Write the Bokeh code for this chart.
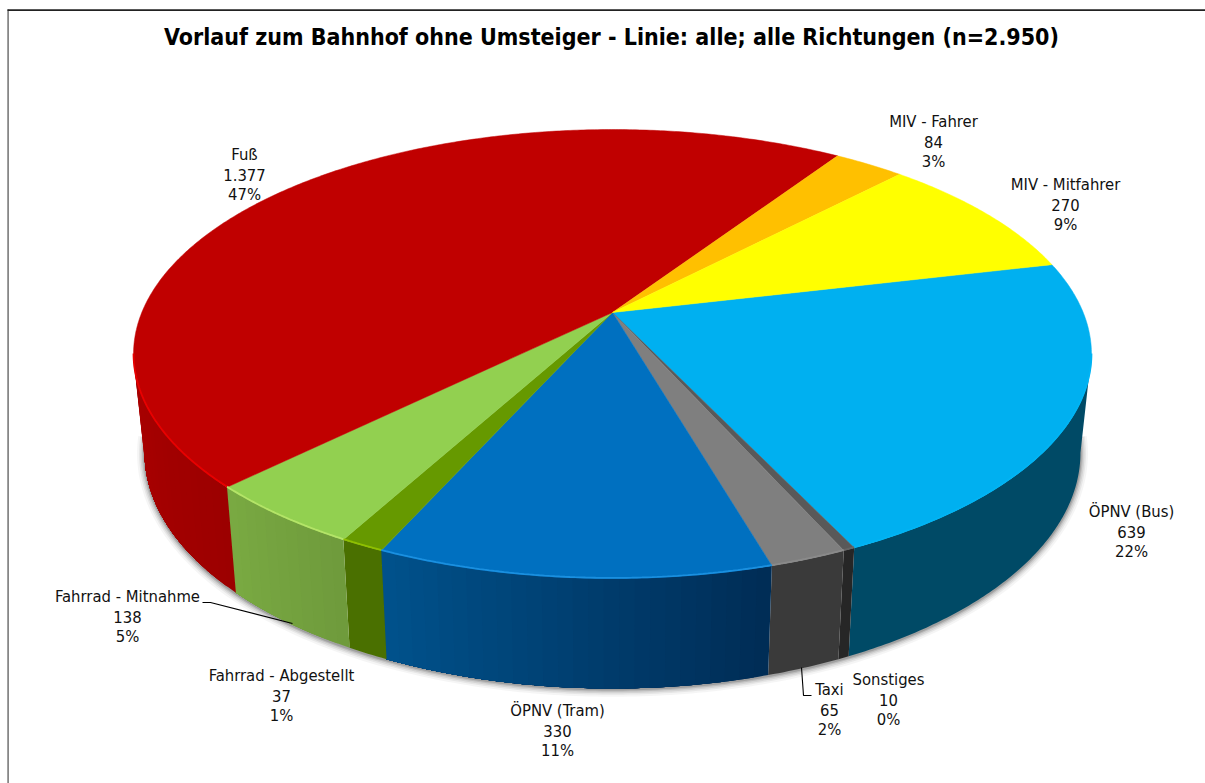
import numpy as np
from bokeh.plotting import figure
from bokeh.models import Range1d
from bokeh.core.properties import value
from bokeh.embed import file_html
from bokeh.resources import INLINE

# --- data (clockwise from the first slice) ---
categories = ["ÖPNV (Bus)", "Sonstiges", "Taxi", "ÖPNV (Tram)", "Fahrrad - Abgestellt",
              "Fahrrad - Mitnahme", "Fuß", "MIV - Fahrer", "MIV - Mitfahrer"]
values = [639, 10, 65, 330, 37, 138, 1377, 84, 270]
value_labels = ["639", "10", "65", "330", "37", "138", "1.377", "84", "270"]
percent_labels = ["22%", "0%", "2%", "11%", "1%", "5%", "47%", "3%", "9%"]
title_text = "Vorlauf zum Bahnhof ohne Umsteiger - Linie: alle; alle Richtungen (n=2.950)"

# --- styles ---
top_colors = ["#00B0F0", "#595959", "#7F7F7F", "#0070C0", "#669900", "#92D050", "#C00000", "#FFC000", "#FFFF00"]
wall_left = ["#004A66", "#262626", "#3A3A3A", "#002C55", "#4A7000", "#6F9A3C", "#9C0000", "#000000", "#000000"]
wall_right = ["#004A66", "#262626", "#3A3A3A", "#00528C", "#4A7000", "#79AA42", "#AA0000", "#000000", "#000000"]
rim_colors = ["#00B4F4", "#666666", "#8A8A8A", "#1A90E0", "#8FC000", "#B4E468", "#E80000", None, None]

# label anchor: centre x and y of the first line
label_pos = [(1131, 511), (888, 679), (829, 689), (557, 710), (281, 675), (127, 596), (244, 154), (933, 121), (1065, 184)]
LINE = 20.0
FONT = "DejaVu Sans Condensed"

# --- projection of the tilted disc ---
CX, CY = 612.0, 312.0
R, S, K = 470.7, 216.8, 0.1849
START = 13.3
X_SHRINK, Y_STRETCH, BOTTOM_Y, FRONT_Y = 0.977, 1.05, 688.0, 578.0
SILH = np.degrees(np.arcsin(K))


def top_pt(deg):
    t = np.radians(np.asarray(deg, dtype=float))
    X, Y = np.cos(t), np.sin(t)
    d = 1 + K * Y
    return CX + R * X / d, CY - S * Y / d


def bottom_pt(deg):
    x, y = top_pt(deg)
    return CX + X_SHRINK * (x - CX), BOTTOM_Y + Y_STRETCH * (y - FRONT_Y)


def lerp_hex(a, b, f):
    ca = [int(a[i:i + 2], 16) for i in (1, 3, 5)]
    cb = [int(b[i:i + 2], 16) for i in (1, 3, 5)]
    return "#%02x%02x%02x" % tuple(int(round(u + (v - u) * f)) for u, v in zip(ca, cb))


total = sum(values)
edges = [START]
for v in values:
    edges.append(edges[-1] - 360.0 * v / total)

p = figure(width=1205, height=783, x_range=Range1d(0, 1205), y_range=Range1d(783, 0),
           output_backend="svg", toolbar_location=None, min_border=0)
p.axis.visible = False
p.grid.visible = False
p.outline_line_color = None
p.background_fill_color = "white"
p.border_fill_color = "white"

# frame
p.line([7.6, 7.6], [9, 783], line_color="#7a7a7a", line_width=1.6)
p.line([7, 1205], [9.6, 9.6], line_color="#222222", line_width=1.6)

# soft shadow under the lower rim
ts = np.linspace(-SILH + 4, -180 + SILH - 4, 240)
sx, sy = bottom_pt(ts)
for w, a in [(15, 0.04), (11, 0.06), (8, 0.08), (5, 0.11), (2.5, 0.15)]:
    p.line(sx, sy + 0.8, line_color="black", line_width=w, line_alpha=a, line_join="round")

# walls: each slice is painted as successively narrower pieces for the shading
wx, wy, wc = [], [], []
for i in range(len(values)):
    hi, lo = edges[i], edges[i + 1]
    for shift in (0, 360):
        a = min(hi + shift, -SILH)
        b = max(lo + shift, -180 + SILH)
        if a <= b:
            continue
        same = wall_left[i] == wall_right[i]
        n = 1 if same else max(2, int((a - b) / 1.5))
        grid = np.linspace(a, b, n + 1)
        for j in range(n):
            g = np.linspace(grid[j], b, max(3, int((grid[j] - b) * 2)))
            tx, ty = top_pt(g)
            bx, by = bottom_pt(g)
            wx.append(list(tx) + list(bx[::-1]))
            wy.append(list(ty) + list(by[::-1]))
            wc.append(lerp_hex(wall_left[i], wall_right[i], (j + 0.5) / n))
p.patches(wx, wy, fill_color=wc, line_color=None)

# top surface
xs, ys, cols = [], [], []
for i in range(len(values)):
    g = np.linspace(edges[i], edges[i + 1], max(4, int(abs(edges[i] - edges[i + 1]) * 2)))
    x, y = top_pt(g)
    xs.append([CX] + list(x))
    ys.append([CY] + list(y))
    cols.append(top_colors[i])
p.patches(xs, ys, fill_color=cols, line_color=cols, line_width=0.5)

# light bevel on the front rim
for i in range(len(values)):
    if rim_colors[i] is None:
        continue
    for shift in (0, 360):
        a = min(edges[i] + shift, -SILH)
        b = max(edges[i + 1] + shift, -180 + SILH)
        if a <= b:
            continue
        x, y = top_pt(np.linspace(a, b, 80))
        p.line(x, y - 0.6, line_color=rim_colors[i], line_width=1.8)

# leader lines
p.line([202, 210, 292], [602, 602, 623], line_color="black", line_width=1.1)
p.line([801, 803, 811], [667, 695, 695], line_color="black", line_width=1.1)

# labels
tx, ty, tt = [], [], []
for i, (lx, ly) in enumerate(label_pos):
    for k, s in enumerate((categories[i], value_labels[i], percent_labels[i])):
        tx.append(lx)
        ty.append(ly + k * LINE)
        tt.append(s)
p.text(x=tx, y=ty, text=tt, text_font=value(FONT), text_font_size="16.5px", text_color="#111111",
       text_align="center", text_baseline="middle")

p.text(x=[611], y=[36], text=[title_text], text_font=value(FONT), text_font_size="23px",
       text_font_style="bold", text_color="black", text_align="center", text_baseline="middle")

open("out.html", "w").write(file_html(p, INLINE))
